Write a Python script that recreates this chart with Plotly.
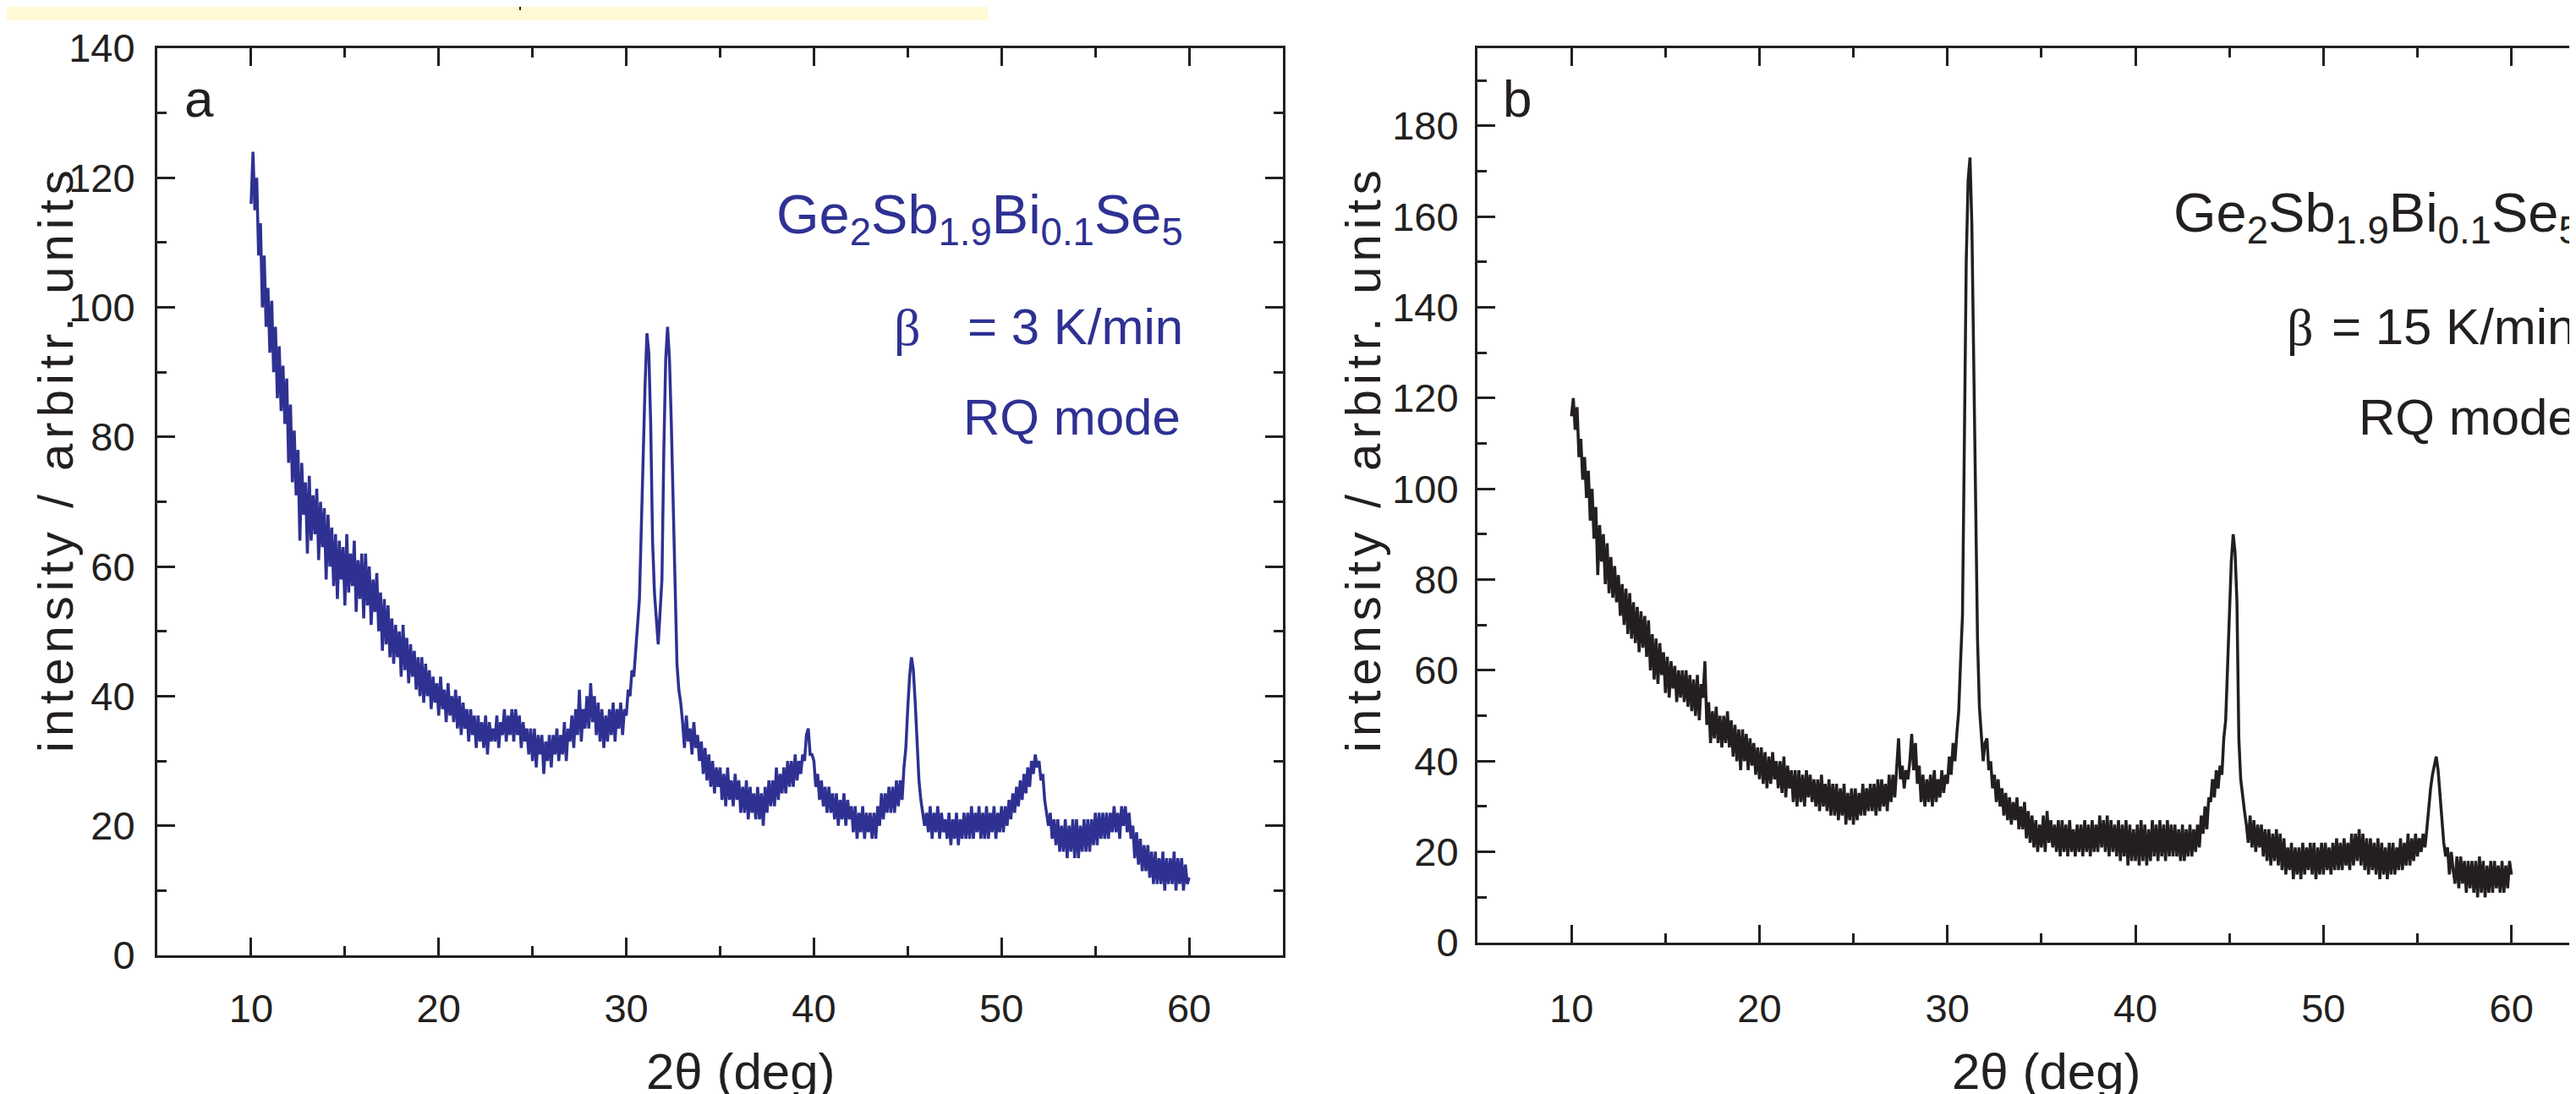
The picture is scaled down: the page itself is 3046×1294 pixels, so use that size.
import plotly.graph_objects as go

W, H = 3046, 1294
PAGE_OFFSET = 8  # the page body margin shifts the figure; positions below are page pixels
BLUE = "#2E3192"
DARK = "#231F20"
SANS = "Liberation Sans, Arial, Helvetica, sans-serif"

# 2theta grid (deg), 0.1 deg steps from 10 to 60
two_theta = [round(10 + i * 0.1, 1) for i in range(501)]

# panel a: beta = 3 K/min (one row per degree)
intensity_a = [
    116, 124, 115, 120, 108, 113, 100, 108, 97, 103,   # 10
    93, 101, 90, 97, 86, 94, 84, 91, 82, 89,           # 11
    76, 85, 73, 81, 71, 78, 64, 76, 68, 73,            # 12
    62, 74, 64, 71, 65, 72, 61, 70, 63, 69,            # 13
    58, 68, 60, 66, 57, 65, 55, 64, 58, 63,            # 14
    54, 65, 56, 62, 57, 64, 53, 61, 55, 62,            # 15
    52, 62, 54, 60, 51, 58, 53, 59, 50, 56,            # 16
    47, 55, 48, 54, 46, 52, 45, 51, 46, 50,            # 17
    43, 51, 44, 49, 42, 48, 43, 47, 41, 46,            # 18
    40, 46, 39, 45, 40, 44, 38, 43, 39, 42,            # 19
    37, 43, 38, 41, 36, 42, 37, 40, 36, 41,            # 20
    35, 40, 34, 39, 35, 38, 33, 38, 34, 37,            # 21
    32, 37, 33, 36, 32, 37, 31, 36, 33, 35,            # 22
    33, 37, 32, 36, 34, 38, 33, 37, 34, 38,            # 23
    33, 38, 34, 37, 32, 36, 33, 35, 31, 35,            # 24
    30, 35, 29, 34, 31, 34, 28, 33, 30, 34,            # 25
    29, 34, 31, 35, 30, 34, 31, 36, 30, 35,            # 26
    33, 37, 32, 38, 34, 41, 33, 38, 35, 40,            # 27
    35, 42, 36, 40, 34, 39, 33, 38, 32, 37,            # 28
    33, 38, 34, 39, 33, 38, 35, 39, 34, 38,            # 29
    37, 41, 40, 44, 43, 47, 51, 55, 66, 78,            # 30
    88, 96, 93, 82, 64, 56, 52, 48, 53, 58,            # 31
    78, 92, 97, 92, 82, 68, 55, 45, 41, 39,            # 32
    36, 32, 37, 33, 35, 31, 36, 32, 34, 30,            # 33
    33, 28, 32, 27, 31, 26, 30, 25, 29, 26,            # 34
    29, 24, 28, 23, 29, 24, 27, 23, 28, 24,            # 35
    27, 22, 26, 22, 27, 21, 26, 22, 25, 21,            # 36
    26, 21, 25, 20, 26, 22, 27, 23, 27, 23,            # 37
    29, 24, 28, 25, 29, 25, 30, 26, 30, 26,            # 38
    31, 27, 30, 28, 31, 30, 34, 35, 31, 31,            # 39
    30, 26, 28, 24, 27, 23, 26, 22, 26, 22,            # 40
    25, 21, 25, 20, 24, 21, 25, 20, 24, 21,            # 41
    23, 19, 23, 18, 22, 19, 23, 18, 22, 19,            # 42
    22, 18, 22, 18, 23, 20, 25, 21, 25, 22,            # 43
    26, 22, 26, 22, 27, 23, 27, 24, 29, 32,            # 44
    38, 43, 46, 44, 39, 32, 27, 24, 22, 20,            # 45
    22, 19, 23, 18, 22, 19, 23, 18, 22, 19,            # 46
    21, 18, 22, 17, 21, 18, 22, 17, 21, 18,            # 47
    22, 18, 22, 18, 23, 18, 22, 19, 23, 18,            # 48
    22, 18, 23, 18, 22, 19, 23, 18, 22, 19,            # 49
    23, 19, 23, 20, 24, 21, 25, 22, 26, 23,            # 50
    27, 24, 28, 25, 29, 26, 30, 28, 31, 29,            # 51
    30, 27, 28, 24, 22, 20, 22, 18, 21, 17,            # 52
    21, 16, 20, 16, 21, 15, 20, 16, 21, 15,            # 53
    21, 15, 20, 16, 21, 16, 21, 16, 21, 17,            # 54
    22, 17, 22, 18, 22, 18, 22, 18, 22, 19,            # 55
    23, 19, 22, 18, 23, 20, 23, 19, 22, 18,            # 56
    20, 15, 19, 14, 18, 13, 17, 13, 17, 12,            # 57
    16, 11, 16, 11, 15, 11, 16, 10, 15, 11,            # 58
    15, 11, 16, 10, 15, 11, 15, 10, 14, 11,            # 59
    12,                                                # 60
]

# panel b: beta = 15 K/min
intensity_b = [
    116, 120, 113, 118, 107, 111, 102, 107, 98, 104,   # 10
    93, 100, 89, 96, 81, 92, 84, 90, 79, 88,           # 11
    77, 85, 76, 83, 75, 81, 72, 79, 70, 78,            # 12
    68, 77, 67, 75, 66, 74, 64, 73, 65, 72,            # 13
    63, 71, 60, 68, 58, 67, 57, 66, 59, 64,            # 14
    55, 63, 54, 62, 56, 61, 53, 60, 54, 60,            # 15
    53, 60, 52, 59, 51, 58, 50, 59, 49, 57,            # 16
    54, 62, 48, 53, 44, 51, 45, 52, 44, 50,            # 17
    43, 50, 44, 51, 43, 49, 41, 48, 40, 47,            # 18
    38, 47, 40, 46, 38, 45, 39, 44, 37, 43,            # 19
    36, 43, 35, 42, 34, 41, 35, 42, 36, 40,            # 20
    34, 40, 33, 41, 32, 39, 34, 38, 31, 38,            # 21
    30, 38, 31, 37, 30, 38, 32, 37, 31, 36,            # 22
    30, 36, 29, 37, 30, 35, 29, 36, 28, 35,            # 23
    28, 35, 27, 34, 28, 35, 26, 33, 27, 34,            # 24
    26, 34, 27, 33, 28, 35, 28, 34, 29, 35,            # 25
    29, 35, 28, 36, 29, 36, 30, 35, 29, 37,            # 26
    31, 37, 32, 39, 45, 36, 39, 34, 38, 36,            # 27
    40, 46, 38, 44, 35, 39, 31, 37, 30, 36,            # 28
    31, 37, 30, 38, 31, 36, 32, 38, 33, 37,            # 29
    35, 41, 37, 44, 40, 46, 51, 62, 72, 110,           # 30
    150, 168, 173, 158, 128, 102, 67, 52, 46, 40,      # 31
    44, 45, 38, 40, 34, 37, 31, 36, 30, 34,            # 32
    28, 33, 27, 32, 26, 31, 27, 32, 25, 30,            # 33
    25, 31, 23, 29, 22, 28, 21, 27, 20, 26,            # 34
    21, 28, 20, 29, 22, 27, 21, 26, 20, 27,            # 35
    19, 27, 20, 26, 19, 27, 20, 25, 19, 26,            # 36
    20, 26, 19, 27, 20, 26, 19, 27, 20, 26,            # 37
    20, 28, 21, 27, 20, 28, 19, 27, 20, 26,            # 38
    19, 27, 18, 26, 19, 27, 17, 26, 18, 25,            # 39
    18, 26, 17, 27, 18, 26, 17, 25, 18, 27,            # 40
    19, 26, 18, 27, 19, 26, 18, 27, 19, 26,            # 41
    19, 26, 19, 25, 18, 26, 18, 25, 19, 26,            # 42
    19, 25, 20, 26, 21, 28, 24, 30, 25, 32,            # 43
    31, 36, 32, 38, 34, 39, 37, 45, 49, 60,            # 44
    72, 84, 90, 86, 75, 45, 36, 32, 29, 26,            # 45
    22, 28, 21, 27, 20, 26, 21, 26, 19, 25,            # 46
    18, 25, 17, 24, 18, 25, 17, 24, 16, 23,            # 47
    15, 21, 16, 22, 14, 21, 15, 21, 14, 22,            # 48
    15, 21, 16, 22, 15, 22, 14, 21, 15, 22,            # 49
    15, 22, 16, 21, 15, 22, 16, 23, 16, 22,            # 50
    16, 23, 17, 22, 16, 24, 17, 24, 18, 25,            # 51
    17, 24, 16, 23, 15, 23, 16, 22, 15, 23,            # 52
    14, 22, 15, 21, 14, 22, 15, 22, 15, 21,            # 53
    16, 23, 16, 22, 17, 24, 17, 23, 18, 24,            # 54
    19, 23, 20, 24, 21, 25, 30, 34, 37, 39,            # 55
    41, 38, 32, 27, 22, 19, 21, 15, 20, 16,            # 56
    13, 19, 12, 19, 13, 18, 11, 18, 12, 18,            # 57
    11, 18, 10, 19, 11, 18, 10, 17, 11, 18,            # 58
    11, 18, 12, 17, 11, 18, 11, 17, 12, 18,            # 59
    15,                                                # 60
]

x_tick_vals = [10, 20, 30, 40, 50, 60]
formula = "Ge<sub>2</sub>Sb<sub>1.9</sub>Bi<sub>0.1</sub>Se<sub>5</sub>"
y_title = '<span style="letter-spacing:6px">intensity / arbitr. units</span>'


def px(x):
    return (x - PAGE_OFFSET) / W


def py(y):
    return 1 - (y - PAGE_OFFSET) / H


fig = go.Figure()
fig.add_trace(go.Scatter(x=two_theta, y=intensity_a, mode="lines",
                         line=dict(color=BLUE, width=3.5), xaxis="x", yaxis="y"))
fig.add_trace(go.Scatter(x=two_theta, y=intensity_b, mode="lines",
                         line=dict(color=DARK, width=3.5), xaxis="x2", yaxis="y2"))

axis_common = dict(
    showline=True, linecolor=DARK, linewidth=3, automargin=False,
    ticks="inside", ticklen=21, tickwidth=3, tickcolor=DARK,
    showgrid=False, zeroline=False,
    tickfont=dict(family=SANS, size=47, color=DARK),
    minor=dict(ticks="inside", ticklen=11, tickwidth=3, tickcolor=DARK),
)

# right panel runs past the page edge, so its x range ends where the page does
right_x_end = 5 + (W - (1747 - PAGE_OFFSET)) / 22.23

fig.update_layout(
    width=W, height=H, autosize=False,
    margin=dict(l=0, r=0, t=0, b=0, pad=0, autoexpand=False),
    paper_bgcolor="white", plot_bgcolor="white",
    showlegend=False,
    xaxis=dict(axis_common, domain=[px(186), px(1517)], range=[5, 65], anchor="y",
               tickvals=x_tick_vals, mirror="ticks", ticklabelstandoff=20,
               minor=dict(axis_common["minor"], tick0=0, dtick=5)),
    yaxis=dict(axis_common, domain=[py(1130), py(57)], range=[0, 140], anchor="x",
               tick0=0, dtick=20, mirror="ticks", ticklabelstandoff=14,
               minor=dict(axis_common["minor"], tick0=0, dtick=10)),
    xaxis2=dict(axis_common, domain=[px(1747), 1.0], range=[5, right_x_end], anchor="y2",
                tickvals=x_tick_vals, mirror="ticks", ticklabelstandoff=35,
                minor=dict(axis_common["minor"], tick0=0, dtick=5)),
    yaxis2=dict(axis_common, domain=[py(1115), py(57)], range=[0, 197.1], anchor="x2",
                tick0=0, dtick=20, mirror=False, ticklabelstandoff=10,
                minor=dict(axis_common["minor"], tick0=0, dtick=10)),
)

# pale highlight strip at the top left
fig.add_shape(type="rect", xref="paper", yref="paper",
              x0=px(0), x1=px(1168), y0=py(24), y1=py(0),
              fillcolor="#FFF9D6", line=dict(width=0), layer="below")
fig.add_shape(type="line", xref="paper", yref="paper",
              x0=px(615), x1=px(615), y0=py(12), y1=py(0),
              line=dict(color=DARK, width=2))


def note(text, x, y, anchor, color, size=60, family=SANS, angle=0):
    fig.add_annotation(text=text, xref="paper", yref="paper",
                       x=px(x), y=py(y), xanchor=anchor, yanchor="middle",
                       showarrow=False, textangle=angle,
                       font=dict(family=family, size=size, color=color))


# panel letters
note("a", 216, 116, "left", DARK, size=62)
note("b", 1775, 116, "left", DARK, size=62)

# panel a annotations
note(formula, 1401, 258, "right", BLUE, size=65)
note("β", 1055, 387, "left", BLUE, size=62, family="Liberation Serif, serif")
note("= 3 K/min", 1401, 387, "right", BLUE)
note("RQ mode", 1398, 494, "right", BLUE)

# panel b annotations
note(formula, 2568, 257, "left", DARK, size=65)
note("β", 2702, 387, "left", DARK, size=62, family="Liberation Serif, serif")
note("= 15 K/min", 2755, 387, "left", DARK)
note("RQ mode", 2787, 494, "left", DARK)

# axis titles
note("2θ (deg)", 875, 1267, "center", DARK)
note("2θ (deg)", 2419, 1267, "center", DARK)
note(y_title, 65, 543, "center", DARK, size=58, angle=-90)
note(y_title, 1611, 543, "center", DARK, size=58, angle=-90)

fig.write_html("out.html")
